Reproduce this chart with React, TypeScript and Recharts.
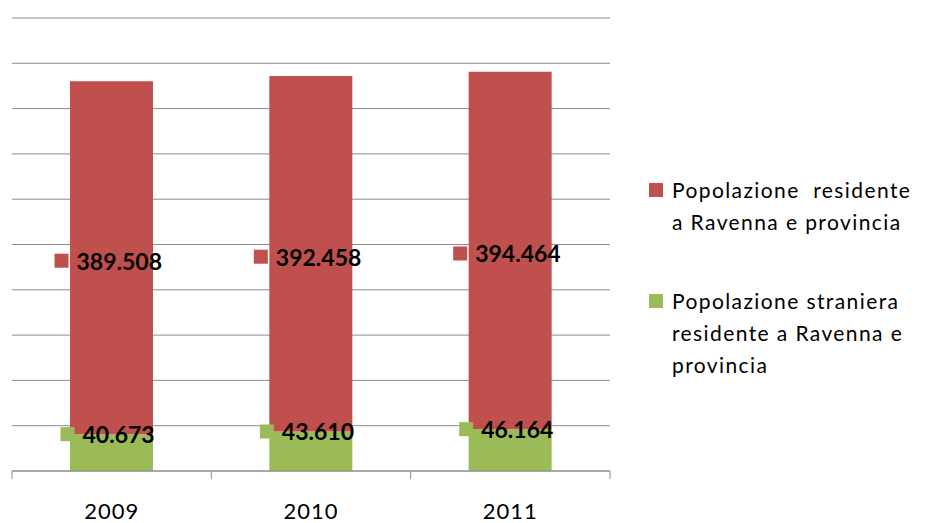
import React from 'react';
import { BarChart, Bar, XAxis, YAxis, CartesianGrid, LabelList } from 'recharts';

const years = ['2009', '2010', '2011'];
const residenti = [389508, 392458, 394464];
const stranieri = [40673, 43610, 46164];
const seriesNames = [
  'Popolazione  residente\na Ravenna e provincia',
  'Popolazione straniera\nresidente a Ravenna e\nprovincia',
];
const yTicks = [0, 50000, 100000, 150000, 200000, 250000, 300000, 350000, 400000, 450000, 500000];

const RED = '#C0504D';
const GREEN = '#9BBB59';
const GRID = '#8c8c8c';
const FONT = 'Lato, "Open Sans", sans-serif';

const W = 925;
const H = 523;
const X_AXIS_H = 30;
const MARGIN = { top: 18, right: 315, bottom: 22, left: 12 };
const BASELINE = H - MARGIN.bottom - X_AXIS_H;
const HALF_BAND = (W - MARGIN.left - MARGIN.right) / years.length / 2;

const data = years.map((year, i) => ({
  year,
  residenti: residenti[i],
  stranieri: stranieri[i],
}));

// numbers shown Italian style: 389.508
const fmt = (v: number) => v.toLocaleString('it-IT');

function YearTick(props: any) {
  const { x, payload, index } = props;
  return (
    <g>
      <line x1={x - HALF_BAND} x2={x - HALF_BAND} y1={BASELINE} y2={BASELINE + 8} stroke={GRID} />
      {index === years.length - 1 && (
        <line x1={x + HALF_BAND} x2={x + HALF_BAND} y1={BASELINE} y2={BASELINE + 8} stroke={GRID} />
      )}
      <text
        x={x}
        y={BASELINE + 48}
        textAnchor="middle"
        fontFamily={FONT}
        fontSize={22}
        letterSpacing={1}
        fill="#000"
      >
        {payload.value}
      </text>
    </g>
  );
}

function makeLabel(color: string, keyOffset: number, textOffset: number, atTop: boolean) {
  return (props: any) => {
    const { x, y, width, height, value } = props;
    const cx = x + width / 2;
    const cy = atTop ? y : y + height / 2 + 3;
    return (
      <g>
        <rect x={cx + keyOffset} y={cy - 7} width={14} height={14} fill={color} />
        <text
          x={cx + textOffset}
          y={cy}
          dominantBaseline="central"
          fontFamily={FONT}
          fontWeight="bold"
          fontSize={23}
          fill="#000"
        >
          {fmt(value)}
        </text>
      </g>
    );
  };
}

function LegendBox() {
  const colors = [RED, GREEN];
  return (
    <div
      style={{
        position: 'absolute',
        left: 649,
        top: 174,
        fontFamily: FONT,
        fontSize: 21,
        color: '#000',
        lineHeight: '32px',
      }}
    >
      {seriesNames.map((name, i) => (
        <div key={name} style={{ display: 'flex', alignItems: 'flex-start', marginBottom: i === 0 ? 47 : 0 }}>
          <div style={{ width: 14, height: 14, background: colors[i], marginTop: 9, marginRight: 9, flex: 'none' }} />
          <div style={{ whiteSpace: 'pre', letterSpacing: 1.4 }}>{name}</div>
        </div>
      ))}
    </div>
  );
}

export default function App() {
  return (
    <div style={{ position: 'absolute', left: 0, top: 0, width: W, height: H, background: '#fff' }}>
      <BarChart width={W} height={H} data={data} margin={MARGIN}>
        <CartesianGrid vertical={false} stroke={GRID} />
        <YAxis hide domain={[0, 500000]} ticks={yTicks} />
        <XAxis
          dataKey="year"
          height={X_AXIS_H}
          axisLine={{ stroke: GRID }}
          tickLine={false}
          tick={<YearTick />}
          interval={0}
        />
        <Bar dataKey="stranieri" stackId="a" fill={GREEN} barSize={83} isAnimationActive={false}>
          <LabelList dataKey="stranieri" content={makeLabel(GREEN, -51, -29, true)} />
        </Bar>
        <Bar dataKey="residenti" stackId="a" fill={RED} barSize={83} isAnimationActive={false}>
          <LabelList dataKey="residenti" content={makeLabel(RED, -57, -35, false)} />
        </Bar>
      </BarChart>
      <LegendBox />
    </div>
  );
}
